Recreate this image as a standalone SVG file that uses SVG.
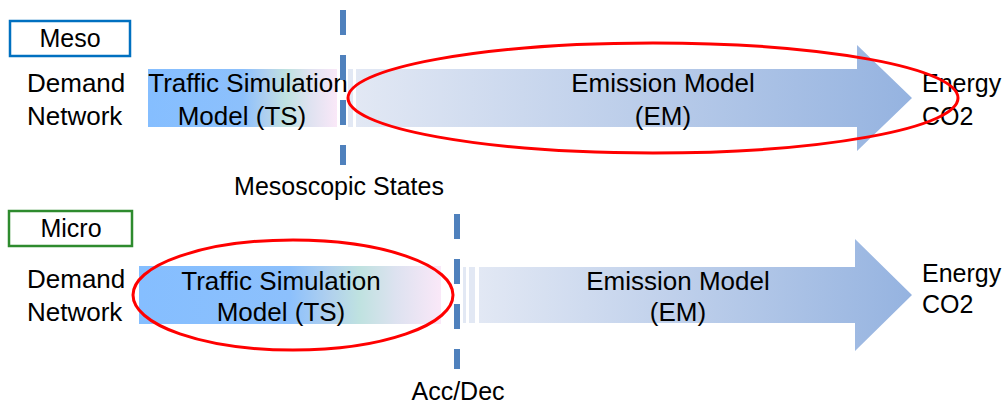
<svg xmlns="http://www.w3.org/2000/svg" width="1008" height="410" viewBox="0 0 1008 410">
<style>
text{font-family:"Liberation Sans",Arial,sans-serif;font-size:25px;fill:#000}
.big{font-size:26px}
.mid{text-anchor:middle}
.dash{stroke:#4F81BD;stroke-width:6;stroke-dasharray:25 20;fill:none}
.ring{fill:none;stroke:#FF0000;stroke-width:3}
.strip{fill:#E2E8F4}
</style>
<defs>
<linearGradient id="ts" x1="0" y1="0" x2="1" y2="0">
<stop offset="0" stop-color="#85BEFF"/>
<stop offset="0.5" stop-color="#8CC0FC"/>
<stop offset="0.63" stop-color="#B0D0EE"/>
<stop offset="0.73" stop-color="#BFE2E0"/>
<stop offset="0.85" stop-color="#DDE2F0"/>
<stop offset="1" stop-color="#FAE8F8"/>
</linearGradient>
<linearGradient id="em" x1="0" y1="0" x2="1" y2="0">
<stop offset="0" stop-color="#E2E8F4"/>
<stop offset="1" stop-color="#95B3E0"/>
</linearGradient>
</defs>

<g id="meso-label">
<rect x="10" y="21" width="120" height="35" fill="#fff" stroke="#0070C0" stroke-width="2.5"/>
<text class="mid" x="70" y="47">Meso</text>
</g>
<g id="meso-input">
<text class="big" x="27" y="92">Demand</text>
<text class="big" x="27" y="125">Network</text>
</g>
<g id="meso-ts">
<rect x="148" y="69" width="189" height="58" fill="url(#ts)"/>
<text class="mid big" x="248" y="92">Traffic Simulation</text>
<text class="mid big" x="242" y="125">Model (TS)</text>
</g>
<g id="meso-em">
<rect class="strip" x="348" y="69" width="5" height="58"/>
<path d="M356 69 H857 V45 L912 98 L857 151 V127 H356 Z" fill="url(#em)"/>
<text class="mid big" x="663" y="92">Emission Model</text>
<text class="mid big" x="663" y="125">(EM)</text>
</g>
<g id="meso-output">
<text x="922" y="92">Energy</text>
<text x="922" y="125">CO2</text>
</g>
<g id="meso-states">
<text class="mid" x="339" y="195">Mesoscopic States</text>
</g>

<g id="micro-label">
<rect x="9" y="211" width="123" height="35" fill="#fff" stroke="#2E8B2E" stroke-width="2.5"/>
<text class="mid" x="71" y="237">Micro</text>
</g>
<g id="micro-input">
<text class="big" x="27" y="288">Demand</text>
<text class="big" x="27" y="321">Network</text>
</g>
<g id="micro-ts">
<rect x="139" y="266" width="302" height="58" fill="url(#ts)"/>
<text class="mid big" x="281" y="290">Traffic Simulation</text>
<text class="mid big" x="281" y="321">Model (TS)</text>
</g>
<g id="micro-em">
<rect class="strip" x="463" y="267" width="3" height="56"/>
<rect class="strip" x="469" y="267" width="6" height="56"/>
<path d="M479 267 H855 V239 L912 295 L855 351 V323 H479 Z" fill="url(#em)"/>
<text class="mid big" x="678" y="290">Emission Model</text>
<text class="mid big" x="678" y="321">(EM)</text>
</g>
<g id="micro-output">
<text x="922" y="282">Energy</text>
<text x="922" y="313">CO2</text>
</g>
<g id="micro-states">
<text class="mid" x="458" y="400">Acc/Dec</text>
</g>

<g id="connectors">
<line class="dash" x1="343" y1="10" x2="343" y2="165"/>
<line class="dash" x1="457" y1="214" x2="457" y2="369"/>
<ellipse class="ring" cx="653" cy="98" rx="305" ry="55"/>
<ellipse class="ring" cx="293" cy="295" rx="160" ry="55"/>
</g>
</svg>
